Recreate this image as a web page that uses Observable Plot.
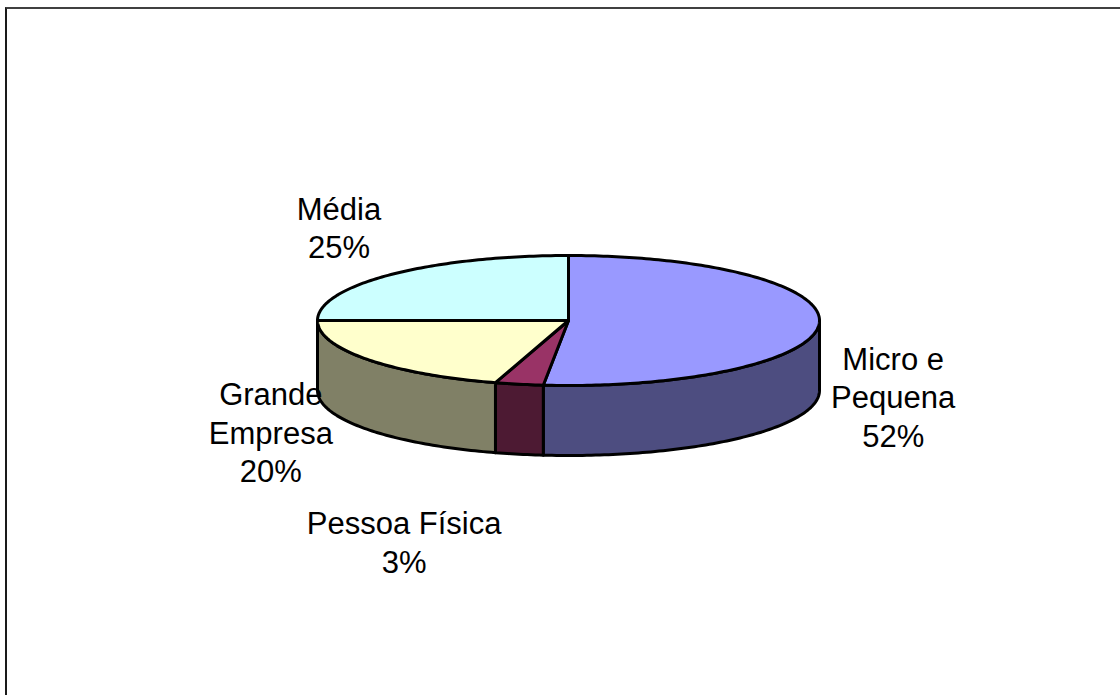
<!DOCTYPE html>
<html>
<head>
<meta charset="utf-8">
<script src="https://cdn.jsdelivr.net/npm/d3@7"></script>
<script src="https://cdn.jsdelivr.net/npm/@observablehq/plot@0.6"></script>
<style>
  html, body { margin: 0; padding: 0; background: #fff; overflow: hidden; }
  #wrap { position: relative; width: 1120px; height: 695px; }
  #border { position: absolute; left: 5px; top: 7px; width: 1200px; height: 800px;
            border-top: 2px solid #404040; border-left: 2px solid #1a1a1a; box-sizing: border-box; }
  #chart { position: absolute; left: 0; top: 0; }
</style>
</head>
<body>
<div id="wrap"><div id="border"></div><div id="chart"></div></div>
<script>
// ---- data ----
const categories = ["Micro e\nPequena", "Pessoa Física", "Grande\nEmpresa", "Média"];
const values = [51.6, 3.1, 20.3, 25.0];
const topColors = ["#9999FF", "#993366", "#FFFFCC", "#CCFFFF"];
const sideColors = ["#4D4D80", "#4D1A33", "#808066", "#668080"];

// ---- layout ----
const W = 1120, H = 695;
const cx = 568, cy = 320, rx = 251, ry = 65, depth = 70;
// label nudges relative to the rim point at the slice's mid-angle (layout only)
const labelNudge = [[74, 72], [-115, 157], [-96, 72], [-52, -48]];

const total = d3.sum(values);
const rad = d => d * Math.PI / 180;
const px = a => cx + rx * Math.sin(rad(a));
const py = a => cy - ry * Math.cos(rad(a));

const slices = [];
let acc = 0;
values.forEach((v, i) => {
  const a0 = acc / total * 360;
  acc += v;
  const a1 = acc / total * 360;
  slices.push({i, a0, a1});
});

function arc(a0, a1, dy = 0) {
  const n = Math.max(2, Math.ceil(Math.abs(a1 - a0) / 1));
  return d3.range(n + 1).map(k => {
    const a = a0 + (a1 - a0) * k / n;
    return [px(a), py(a) + dy];
  });
}

const tops = [];
const sides = [];
for (const s of slices) {
  const pts = [[cx, cy], ...arc(s.a0, s.a1)];
  pts.forEach(([x, y]) => tops.push({id: s.i, x, y, fill: topColors[s.i]}));
  const b0 = Math.max(s.a0, 90), b1 = Math.min(s.a1, 270);
  if (b0 < b1) {
    const sp = [...arc(b0, b1), ...arc(b1, b0, depth)];
    sp.forEach(([x, y]) => sides.push({id: s.i, x, y, fill: sideColors[s.i]}));
  }
}

const labels = slices.map(s => {
  const m = (s.a0 + s.a1) / 2;
  return {
    x: px(m) + labelNudge[s.i][0],
    y: py(m) + labelNudge[s.i][1],
    text: categories[s.i] + "\n" + Math.round(values[s.i]) + "%"
  };
});

const chart = Plot.plot({
  width: W, height: H,
  margin: 0,
  x: {domain: [0, W], range: [0, W], axis: null},
  y: {domain: [0, H], range: [0, H], axis: null},
  color: {type: "identity"},
  marks: [
    Plot.line(sides, {x: "x", y: "y", z: "id", fill: "fill", stroke: "black",
      strokeWidth: 3, strokeLinejoin: "round", curve: "linear-closed"}),
    Plot.line(tops, {x: "x", y: "y", z: "id", fill: "fill", stroke: "black",
      strokeWidth: 3, strokeLinejoin: "round", curve: "linear-closed"}),
    Plot.text(labels, {x: "x", y: "y", text: "text", fontSize: 31,
      fontFamily: "Liberation Sans, Arial, sans-serif", fill: "black",
      lineHeight: 1.24, lineAnchor: "middle", textAnchor: "middle"})
  ],
  style: {background: "transparent"}
});
document.getElementById("chart").appendChild(chart);
</script>
</body>
</html>
